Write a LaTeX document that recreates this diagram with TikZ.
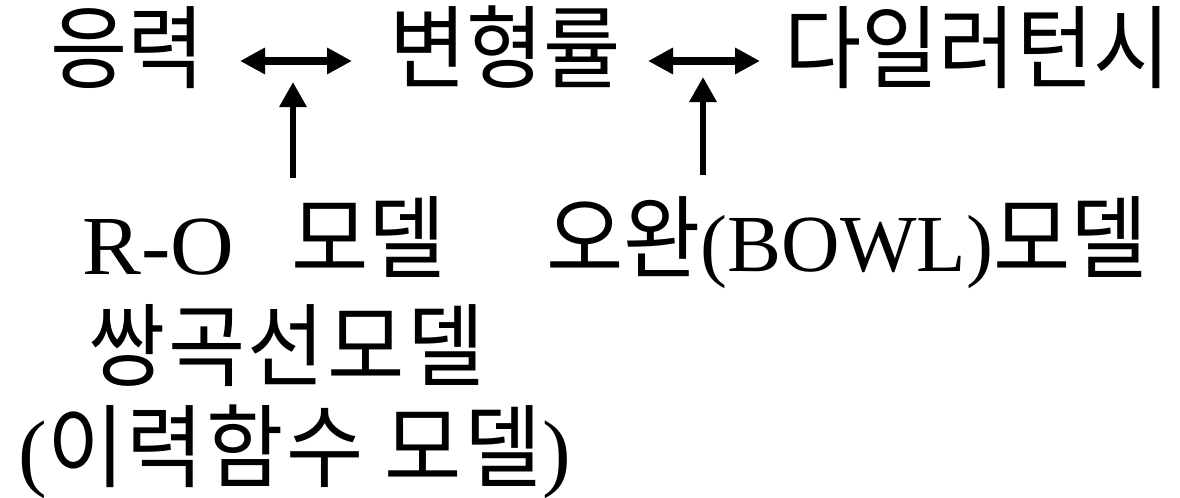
\documentclass[tikz,border=0pt]{standalone}
\usepackage{fontspec}
\usepackage{graphicx}
\setmainfont{Liberation Serif}
\newfontfamily\kr{Noto Sans CJK KR}
\newfontfamily\krw[LetterSpace=3]{Noto Sans CJK KR}
\usetikzlibrary{arrows.meta}
\newcommand\ko[1]{{\kr\fontsize{42pt}{43pt}\selectfont\scalebox{1}[1.08]{#1}}}
\newcommand\kow[1]{{\krw\fontsize{42pt}{43pt}\selectfont\scalebox{1}[1.08]{#1}}}
\begin{document}
\begin{tikzpicture}[x=0.5pt,y=-0.5pt,
  lbl/.style={inner sep=0pt, anchor=base west},
  harrow/.style={line width=3.75pt, {Triangle[length=12.5pt,width=12.5pt]}-{Triangle[length=12.5pt,width=12.5pt]}},
  varrow/.style={line width=3pt, -{Triangle[length=12.5pt,width=13pt]}}]
\path[use as bounding box] (0,0) rectangle (1180,498);
\node[lbl] (stress) at (50,81) {\ko{응력}};
\node[lbl] (strain) at (389,81) {\ko{변형률}};
\node[lbl] (dil) at (784,81) {\ko{다일러턴시}};
\node[lbl] (ro) at (82,274) {\fontsize{42pt}{43pt}\selectfont\scalebox{1.05}[1]{R-O}};
\node[lbl] (romodel) at (291,271) {\ko{모델}};
\node[lbl] (bowl) at (546,271) {\ko{오완}\fontsize{40.5pt}{41pt}\selectfont(BOWL)\ko{모델}};
\node[lbl] (hyp) at (88,379) {\kow{쌍곡선모델}};
\node[lbl] (hist) at (18,480) {\fontsize{43pt}{44pt}\selectfont(\kow{이력함수 모델})};
\coordinate (h1l) at (240,61);
\coordinate (h1r) at (352,61);
\coordinate (h2l) at (648,61);
\coordinate (h2r) at (760,61);
\coordinate (v1b) at (293,178);
\coordinate (v1t) at (293,82);
\coordinate (v2b) at (703,175);
\coordinate (v2t) at (703,77);
\draw[harrow] (h1l) -- (h1r);
\draw[harrow] (h2l) -- (h2r);
\draw[varrow] (v1b) -- (v1t);
\draw[varrow] (v2b) -- (v2t);
\end{tikzpicture}
\end{document}
